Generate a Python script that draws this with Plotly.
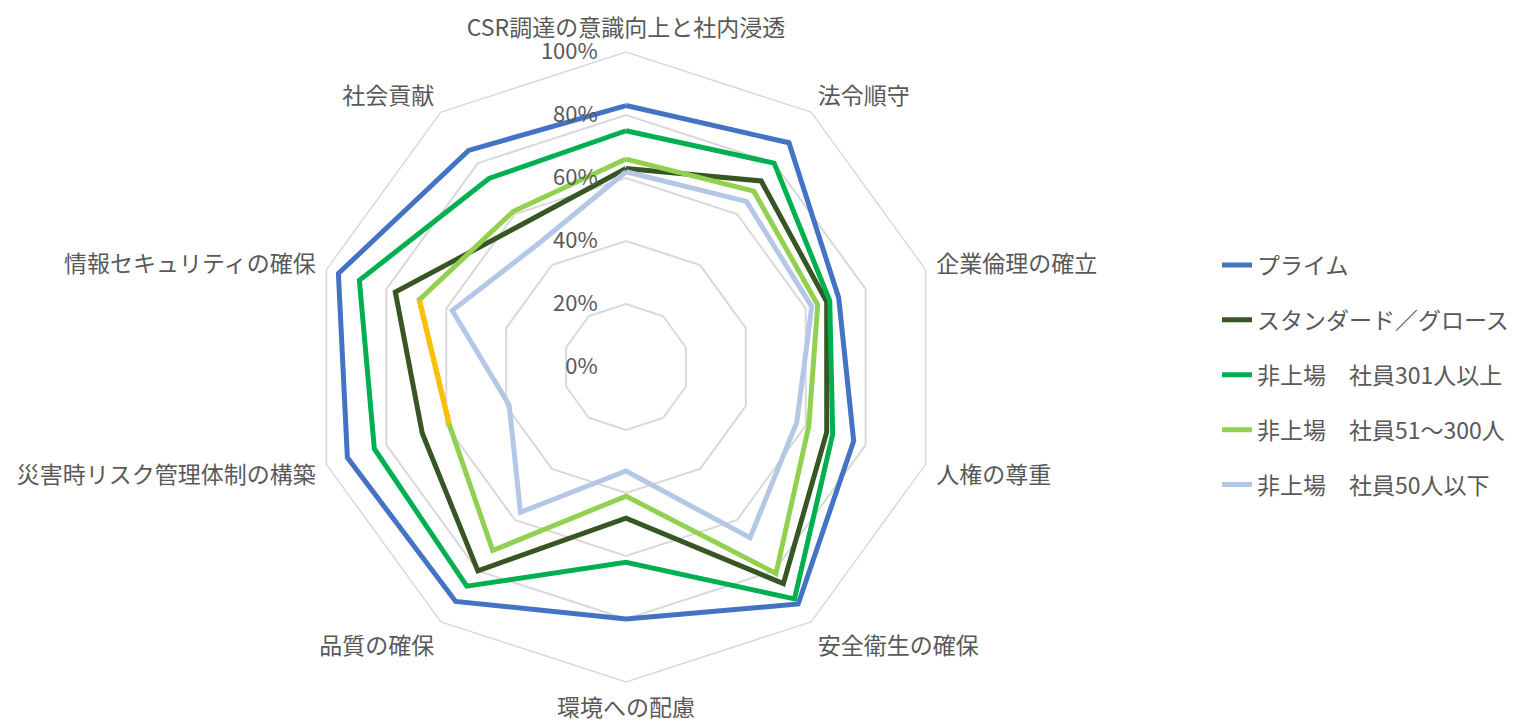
import plotly.graph_objects as go

categories = ["CSR調達の意識向上と社内浸透", "法令順守", "企業倫理の確立", "人権の尊重",
              "安全衛生の確保", "環境への配慮", "品質の確保", "災害時リスク管理体制の構築",
              "情報セキュリティの確保", "社会貢献"]

series_names = ["プライム", "スタンダード／グロース", "非上場\u3000社員301人以上",
                "非上場\u3000社員51～300人", "非上場\u3000社員50人以下"]

prime = [83, 88, 71, 76, 93, 80, 92, 93, 96, 85]
standard_growth = [63, 73, 67, 67, 85, 48, 80, 68, 77, 56]
unlisted_301_plus = [75, 80, 68, 69, 91, 62, 86, 84, 89, 74]
unlisted_51_300 = [66, 69, 64, 61, 81, 41, 72, 59, 69, 61]
unlisted_50_less = [62, 65, 62, 57, 67, 33, 57, 39, 58, 48]

radial_ticks = [0, 20, 40, 60, 80, 100]
radial_tick_labels = ["0%", "20%", "40%", "60%", "80%", "100%"]

colors = ["#4472C4", "#375623", "#00B050", "#92D050", "#B4C7E7"]
highlight_color = "#FFC000"

font_family = "Noto Sans CJK JP, Noto Sans, sans-serif"
text_color = "#595959"
grid_color = "#D9D9D9"

fig = go.Figure()
all_series = [prime, standard_growth, unlisted_301_plus, unlisted_51_300, unlisted_50_less]
for i, (name, vals) in enumerate(zip(series_names, all_series)):
    fig.add_trace(go.Scatterpolar(
        r=vals + vals[:1], theta=categories + categories[:1],
        mode="lines", name=name, legendgroup=f"g{i}",
        line=dict(color=colors[i], width=5),
    ))
    if i == 3:
        # one segment of this series is shown in a different colour in the original
        a, b = categories.index("情報セキュリティの確保"), categories.index("災害時リスク管理体制の構築")
        fig.add_trace(go.Scatterpolar(
            r=[vals[a], vals[b]], theta=[categories[a], categories[b]],
            mode="lines", showlegend=False, legendgroup=f"g{i}",
            line=dict(color=highlight_color, width=5),
        ))

W, H = 1531, 724
off = 8  # page body margin
cx, cy, R = 626 - off, 367 - off, 315
fig.update_layout(
    width=W, height=H,
    margin=dict(l=0, r=0, t=0, b=0),
    paper_bgcolor="white", plot_bgcolor="white",
    font=dict(family=font_family, color=text_color, size=23),
    polar=dict(
        domain=dict(x=[(cx - R) / W, (cx + R) / W], y=[(H - cy - R) / H, (H - cy + R) / H]),
        bgcolor="white",
        gridshape="linear",
        radialaxis=dict(
            range=[0, 100], tickvals=radial_ticks, ticktext=radial_tick_labels,
            angle=90, side="counterclockwise", showline=False,
            gridcolor=grid_color, gridwidth=1.5,
            ticks="outside", ticklen=20, tickcolor="rgba(0,0,0,0)",
            tickangle=90,
            tickfont=dict(size=22, color=text_color, family=font_family),
        ),
        angularaxis=dict(
            rotation=90, direction="clockwise",
            showgrid=False, showline=True, linecolor=grid_color, linewidth=1.5,
            ticks="outside", ticklen=6, tickcolor="rgba(0,0,0,0)",
            tickfont=dict(size=23, color=text_color, family=font_family),
        ),
    ),
    legend=dict(
        x=1209 / W, y=(H - (375 - off)) / H, xanchor="left", yanchor="middle",
        traceorder="grouped", tracegroupgap=22,
        font=dict(size=23, color=text_color, family=font_family),
        bgcolor="rgba(0,0,0,0)",
    ),
    showlegend=True,
)

fig.write_html("out.html")
